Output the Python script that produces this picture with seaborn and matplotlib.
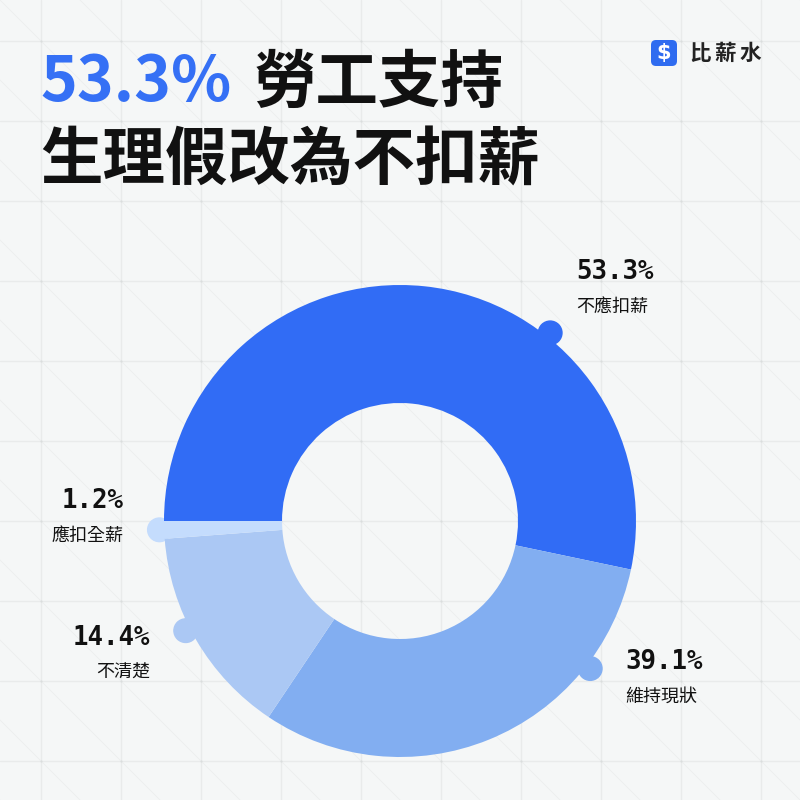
import numpy as np
import matplotlib
matplotlib.use("Agg")
import matplotlib.pyplot as plt
from matplotlib.patches import Circle, FancyBboxPatch
import seaborn as sns

# =============================
#  Données
# =============================
categories = ["不應扣薪", "維持現狀", "不清楚", "應扣全薪"]
label_values = [53.3, 39.1, 14.4, 1.2]      # valeurs affichées
shares = [53.3, 31.1, 14.4, 1.2]            # taille des parts dessinées
colors = ["#316cf5", "#82aef1", "#abc8f4", "#c4dcfd"]

title_pct = "53.3%"
title_rest = "勞工支持"
title_line2 = "生理假改為不扣薪"
brand = "比薪水"

# placement des étiquettes (pixels) et des pastilles (degrés)
anchor_angles = [51.4, -37.8, -152.9, -177.9]
label_pos = [(576, 272, "left"), (625, 662, "left"), (150, 638, "right"), (124, 501, "right")]

# =============================
#  Style
# =============================
sns.set_theme(style="white")
plt.rcParams["font.family"] = ["Noto Sans CJK TC", "DejaVu Sans"]

bg_color = "#f5f7f7"
fig = plt.figure(figsize=(8, 8), dpi=100)
fig.patch.set_facecolor(bg_color)

bg = fig.add_axes([0, 0, 1, 1])
bg.set_xlim(0, 800)
bg.set_ylim(800, 0)
bg.axis("off")

# grille de fond
grid = np.arange(41, 800, 80)
for g in grid:
    bg.axvline(g, color="#e9ebeb", lw=1.0, zorder=0)
    bg.axhline(g, color="#e9ebeb", lw=1.0, zorder=0)
for k in range(-11, 12):
    off = 80 * k
    bg.plot([0, 800], [off, 800 + off], color="#edefef", lw=0.7, zorder=0)
gx, gy = np.meshgrid(grid, grid)
bg.scatter(gx.ravel(), gy.ravel(), s=2.5, color="#dadddd", zorder=0.5, linewidths=0)

# =============================
#  Titre
# =============================
t1 = bg.text(40, 83, title_pct, color="#3570f5", fontsize=45, weight="bold",
             ha="left", va="center")
fig.canvas.draw()
bb = t1.get_window_extent()
x_end = bg.transData.inverted().transform((bb.x1, bb.y0))[0]
bg.text(x_end + 22, 83, title_rest, color="#111111", fontsize=45, weight="bold",
        ha="left", va="center")
bg.text(40, 161, title_line2, color="#111111", fontsize=45, weight="bold",
        ha="left", va="center")

# logo
bg.add_patch(FancyBboxPatch((651, 40), 26, 26, boxstyle="round,pad=0,rounding_size=5",
                            fc="#2f6cf0", ec="none", zorder=3))
bg.text(664, 53.5, "$", color="white", fontsize=15, weight="bold",
        family=["DejaVu Sans"], ha="center", va="center", zorder=4)
for i, ch in enumerate(brand):
    bg.text(700 + 25 * i, 53, ch, color="#222222", fontsize=15.5, weight="bold",
            ha="center", va="center")

# =============================
#  Donut
# =============================
cx, cy, r_out = 400, 521, 236
pax = fig.add_axes([(cx - r_out) / 800, 1 - (cy + r_out) / 800, 2 * r_out / 800, 2 * r_out / 800])
pax.pie(shares, colors=colors, startangle=180, counterclock=False, radius=1,
        wedgeprops=dict(width=0.5, edgecolor="none", linewidth=0))
for ang, col in zip(anchor_angles, colors):
    a = np.deg2rad(ang)
    pax.add_patch(Circle((1.02 * np.cos(a), 1.02 * np.sin(a)), 0.05, color=col,
                         clip_on=False, zorder=0.5))
pax.set_xlim(-1, 1)
pax.set_ylim(-1, 1)
pax.set_aspect("equal")
pax.axis("off")

# étiquettes
for cat, val, (x, y, ha) in zip(categories, label_values, label_pos):
    bg.text(x, y, f"{val:.1f}%", fontsize=18.5, weight="bold", family=["DejaVu Sans Mono"],
            color="#111111", ha=ha, va="center")
    bg.text(x, y + 35, cat, fontsize=13, color="#111111", ha=ha, va="center")

plt.savefig("out.png", dpi=100, facecolor=bg_color)
plt.close()
